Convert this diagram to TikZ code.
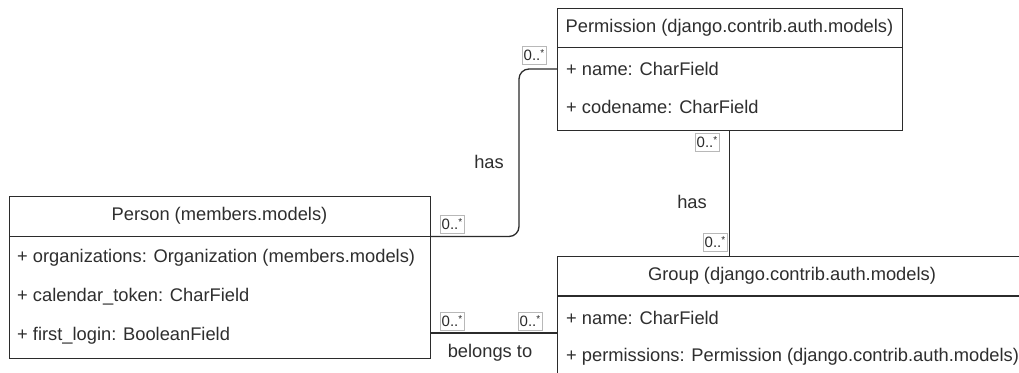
\documentclass[tikz,border=0pt]{standalone}
\usepackage{fontspec}
\setmainfont{Liberation Sans}
\usetikzlibrary{calc}
\definecolor{ink}{HTML}{2B2B2B}
\definecolor{txt}{HTML}{2E2E2E}
\definecolor{tagline}{HTML}{B8B8B8}
\newcommand{\many}{0..\raisebox{3.5pt}{\fontsize{10}{10}\selectfont*}}
\tikzset{
  classbox/.style={draw=ink, line width=1.3pt, fill=white, rectangle, inner sep=0pt, anchor=north west},
  sepline/.style={draw=ink, line width=1.3pt},
  title/.style={text=txt, font=\fontsize{18.3}{21}\selectfont, inner sep=0pt},
  field/.style={text=txt, font=\fontsize{18.3}{21}\selectfont, inner sep=0pt, anchor=west},
  assoc/.style={draw=ink, line width=1.3pt, rounded corners=10pt},
  mult/.style={draw=tagline, line width=0.6pt, fill=white, text=ink, inner sep=0pt,
    minimum width=24pt, minimum height=18pt, font=\fontsize{15}{15}\selectfont},
  rolename/.style={text=txt, font=\fontsize{18.3}{21}\selectfont, inner sep=0pt}
}
\begin{document}
\begin{tikzpicture}[x=1pt, y=-1pt]
\useasboundingbox (0,0) rectangle (1019,372);
\clip (0,0) rectangle (1019,372);
\fill[white] (0,0) rectangle (1019,372);

% Permission class
\node[classbox, minimum width=345pt, minimum height=122pt] (perm) at (557,8) {};
\draw[sepline] (557,47.5) -- (902,47.5);
\node[title] (permtitle) at (729.5,28) {Permission (django.contrib.auth.models)};
\node[field] (permname) at (566,69) {+ name: CharField};
\node[field] (permcode) at (566,107) {+ codename: CharField};

% Person class
\node[classbox, minimum width=421pt, minimum height=162pt] (person) at (9,196) {};
\draw[sepline] (9,236.5) -- (430,236.5);
\node[title] (persontitle) at (219.5,216) {Person (members.models)};
\node[field] (personorg) at (17,258) {+ organizations: Organization (members.models)};
\node[field] (personcal) at (17,297) {+ calendar\_token: CharField};
\node[field] (personlog) at (17,336) {+ first\_login: BooleanField};

% Group class (runs past the right and bottom edges)
\node[classbox, minimum width=470pt, minimum height=125pt] (group) at (557,256) {};
\draw[sepline] (557,296) -- (1027,296);
\node[title] (grouptitle) at (792,276) {Group (django.contrib.auth.models)};
\node[field] (groupname) at (566,318) {+ name: CharField};
\node[field] (groupperm) at (566,357) {+ permissions: Permission (django.contrib.auth.models)};

% connector end points
\coordinate (personA) at (430,236.5);
\coordinate (bendA) at (519,236.5);
\coordinate (bendB) at (519,69);
\coordinate (permA) at (557,69);
\coordinate (permB) at (729.5,130);
\coordinate (groupB) at (729.5,256);
\coordinate (personC) at (430,333);
\coordinate (groupC) at (557,333);

% associations
\draw[assoc] (personA) -- (bendA) -- (bendB) -- (permA);
\draw[assoc] (permB) -- (groupB);
\draw[assoc] (personC) -- (groupC);

% multiplicities
\node[mult] (m1) at (452,224) {\many};
\node[mult] (m2) at (534,55) {\many};
\node[mult] (m3) at (707,142) {\many};
\node[mult] (m4) at (715,242) {\many};
\node[mult] (m5) at (452,321) {\many};
\node[mult] (m6) at (530,321) {\many};

% role names
\node[rolename] (r1) at (489,162) {has};
\node[rolename] (r2) at (692,202) {has};
\node[rolename] (r3) at (490,353) {belongs to};
\end{tikzpicture}
\end{document}
